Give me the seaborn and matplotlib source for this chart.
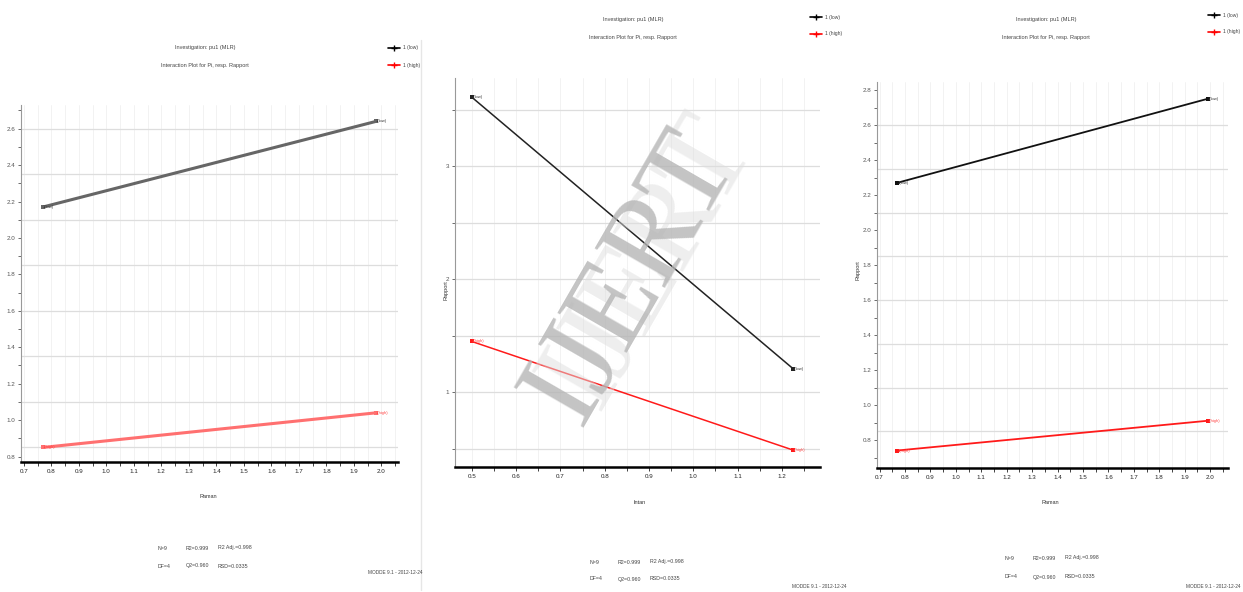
import numpy as np
import pandas as pd
import matplotlib
matplotlib.use("Agg")
import matplotlib.pyplot as plt
import seaborn as sns
from matplotlib.ticker import MultipleLocator, FormatStrFormatter

sns.set_theme(style="white")
plt.rcParams['font.family'] = ['Liberation Sans Narrow', 'Liberation Sans', 'DejaVu Sans']

# ---------------- data ----------------
series_names = ["1 (low)", "1 (high)"]
stats_row1 = ["N=9", "R2=0.999", "R2 Adj.=0.998"]
stats_row2 = ["DF=4", "Q2=0.960", "RSD=0.0335"]
footer_text = "MODDE 9.1 - 2012-12-24"
title_line1 = "Investigation: pu1 (MLR)"
title_line2 = "Interaction Plot for Pi, resp. Rapport"

p1_x = [0.77, 1.98]
p1_low = [2.17, 2.64]
p1_high = [0.85, 1.04]

p2_x = [0.50, 1.225]
p2_low = [3.61, 1.21]
p2_high = [1.45, 0.49]

p3_x = [0.77, 1.99]
p3_low = [2.27, 2.75]
p3_high = [0.74, 0.91]

xlabels = ["Raman", "Intan", "Raman"]
ylabel = "Rapport"

W, H = 1243, 592
fig = plt.figure(figsize=(W / 100, H / 100), dpi=100)
fig.patch.set_facecolor("white")


def fx(x):
    return x / W


def fy(y):
    return 1 - y / H


def make_ax(l, t, r, b):
    return fig.add_axes([fx(l), fy(b), (r - l) / W, (b - t) / H])


def draw_panel(ax, x, low, high, xlim, ylim, xmaj, ymaj, ymin, fmt_x, fmt_y,
               hgrid, line_cols, lw):
    df = pd.DataFrame({
        "x": list(x) * 2,
        "y": list(low) + list(high),
        "s": [series_names[0]] * len(x) + [series_names[1]] * len(x),
    })
    sns.lineplot(data=df, x="x", y="y", hue="s", palette=line_cols, ax=ax,
                 linewidth=lw, marker="s", markersize=3, markeredgewidth=0,
                 legend=False, zorder=3)
    # small point labels
    for xi, yi in zip(x, low):
        ax.text(xi, yi, "1(low)", fontsize=3, color="#333333",
                ha="left", va="center", zorder=4)
    for xi, yi in zip(x, high):
        ax.text(xi, yi, "1(high)", fontsize=3, color="#ff4444",
                ha="left", va="center", zorder=4)
    ax.set_xlim(*xlim)
    ax.set_ylim(*ylim)
    ax.xaxis.set_major_locator(MultipleLocator(xmaj))
    ax.xaxis.set_minor_locator(MultipleLocator(xmaj / 2))
    ax.yaxis.set_major_locator(MultipleLocator(ymaj))
    ax.yaxis.set_minor_locator(MultipleLocator(ymin))
    ax.xaxis.set_major_formatter(FormatStrFormatter(fmt_x))
    ax.yaxis.set_major_formatter(FormatStrFormatter(fmt_y))
    ax.tick_params(axis="both", which="both", direction="out", labelsize=4.5,
                   colors="#555555", length=2, width=0.6, pad=2,
                   bottom=True, left=True)
    ax.tick_params(axis="x", which="both", length=3, colors="#222222")
    # faint vertical grid at every minor x tick
    ax.grid(False)
    for v in np.arange(np.ceil(xlim[0] / (xmaj / 2)) * (xmaj / 2), xlim[1], xmaj / 2):
        ax.axvline(v, color="#f0f0f0", lw=0.6, zorder=0)
    for h in hgrid:
        ax.axhline(h, color="#dddddd", lw=0.9, zorder=1)
    for s in ["top", "right"]:
        ax.spines[s].set_visible(False)
    ax.spines["left"].set_color("#999999")
    ax.spines["left"].set_linewidth(0.8)
    ax.spines["bottom"].set_color("black")
    ax.spines["bottom"].set_linewidth(1.8)
    ax.set_xlabel("")
    ax.set_ylabel("")


def grid_levels(lo, hi, step, anchor):
    start = anchor - np.floor((anchor - lo) / step) * step
    return np.arange(start, hi, step)


# Panel 1
ax1 = make_ax(21, 105, 398, 462)
draw_panel(ax1, p1_x, p1_low, p1_high, (0.69, 2.06), (0.77, 2.73), 0.1, 0.2, 0.1,
           "%.1f", "%.1f", grid_levels(0.77, 2.73, 0.25, 2.6),
           ["#666666", "#ff7070"], 2.2)
# Panel 2
ax2 = make_ax(455, 78, 820, 467)
draw_panel(ax2, p2_x, p2_low, p2_high, (0.462, 1.286), (0.34, 3.78), 0.1, 1.0, 0.5,
           "%.1f", "%.0f", grid_levels(0.34, 3.78, 0.5, 3.0),
           ["#222222", "#ff1a1a"], 1.1)
# Panel 3
ax3 = make_ax(877, 82, 1228, 468)
draw_panel(ax3, p3_x, p3_low, p3_high, (0.69, 2.07), (0.64, 2.846), 0.1, 0.2, 0.1,
           "%.1f", "%.1f", grid_levels(0.64, 2.846, 0.25, 2.6),
           ["#111111", "#ff1a1a"], 1.3)

# x labels / y labels
for (xx, yy, txt) in [(208, 497, xlabels[0]), (640, 503, xlabels[1]), (1050, 503, xlabels[2])]:
    fig.text(fx(xx), fy(yy), txt, fontsize=4, ha="center", va="center", color="#333333")
for (xx, yy) in [(446, 290), (858, 270)]:
    fig.text(fx(xx), fy(yy), ylabel, fontsize=4, rotation=90, ha="center",
             va="center", color="#333333")

# titles
for (cx, y1, y2) in [(205, 47, 65), (633, 20, 37), (1046, 20, 37)]:
    fig.text(fx(cx), fy(y1), title_line1, fontsize=4, ha="center", va="center", color="#444444")
    fig.text(fx(cx), fy(y2), title_line2, fontsize=4, ha="center", va="center", color="#444444")

# legends (drawn as figure text + short line segments)
for (lx, y1, y2) in [(388, 48, 65), (810, 17, 34), (1208, 15, 32)]:
    for yy, col, name in [(y1, "black", series_names[0]), (y2, "red", series_names[1])]:
        fig.add_artist(plt.Line2D([fx(lx), fx(lx + 12)], [fy(yy), fy(yy)],
                                  color=col, lw=1.2, transform=fig.transFigure))
        fig.add_artist(plt.Line2D([fx(lx + 6)], [fy(yy)], color=col, marker="+",
                                  markersize=4, transform=fig.transFigure))
        fig.text(fx(lx + 15), fy(yy), name, fontsize=3.6, ha="left", va="center",
                 color="#444444")

# statistics
for (x0, y1, y2) in [(158, 548, 566), (590, 562, 579), (1005, 558, 577)]:
    offs = [0, 28, 60]
    for o, t1, t2 in zip(offs, stats_row1, stats_row2):
        fig.text(fx(x0 + o), fy(y1), t1, fontsize=3.8, ha="left", va="center", color="#444444")
        fig.text(fx(x0 + o), fy(y2), t2, fontsize=3.8, ha="left", va="center", color="#444444")

for (x0, yy) in [(368, 573), (792, 587), (1186, 586)]:
    fig.text(fx(x0), fy(yy), footer_text, fontsize=3.4, ha="left", va="center", color="#444444")

# panel separators
fig.add_artist(plt.Line2D([fx(421), fx(421)], [fy(40), fy(590)], color="#e6e6e6",
                          lw=1, transform=fig.transFigure))

# watermark
fig.text(fx(632), fy(278), "IJERT", fontsize=88, family=["Liberation Serif", "DejaVu Serif"],
         rotation=60, color="#b5b5b5", alpha=0.8, ha="center", va="center", zorder=10)
fig.text(fx(650), fy(262), "IJERT", fontsize=88, family=["Liberation Serif", "DejaVu Serif"],
         rotation=60, color="#dddddd", alpha=0.5, ha="center", va="center", zorder=9)

fig.savefig("out.png", dpi=100, facecolor="white")
